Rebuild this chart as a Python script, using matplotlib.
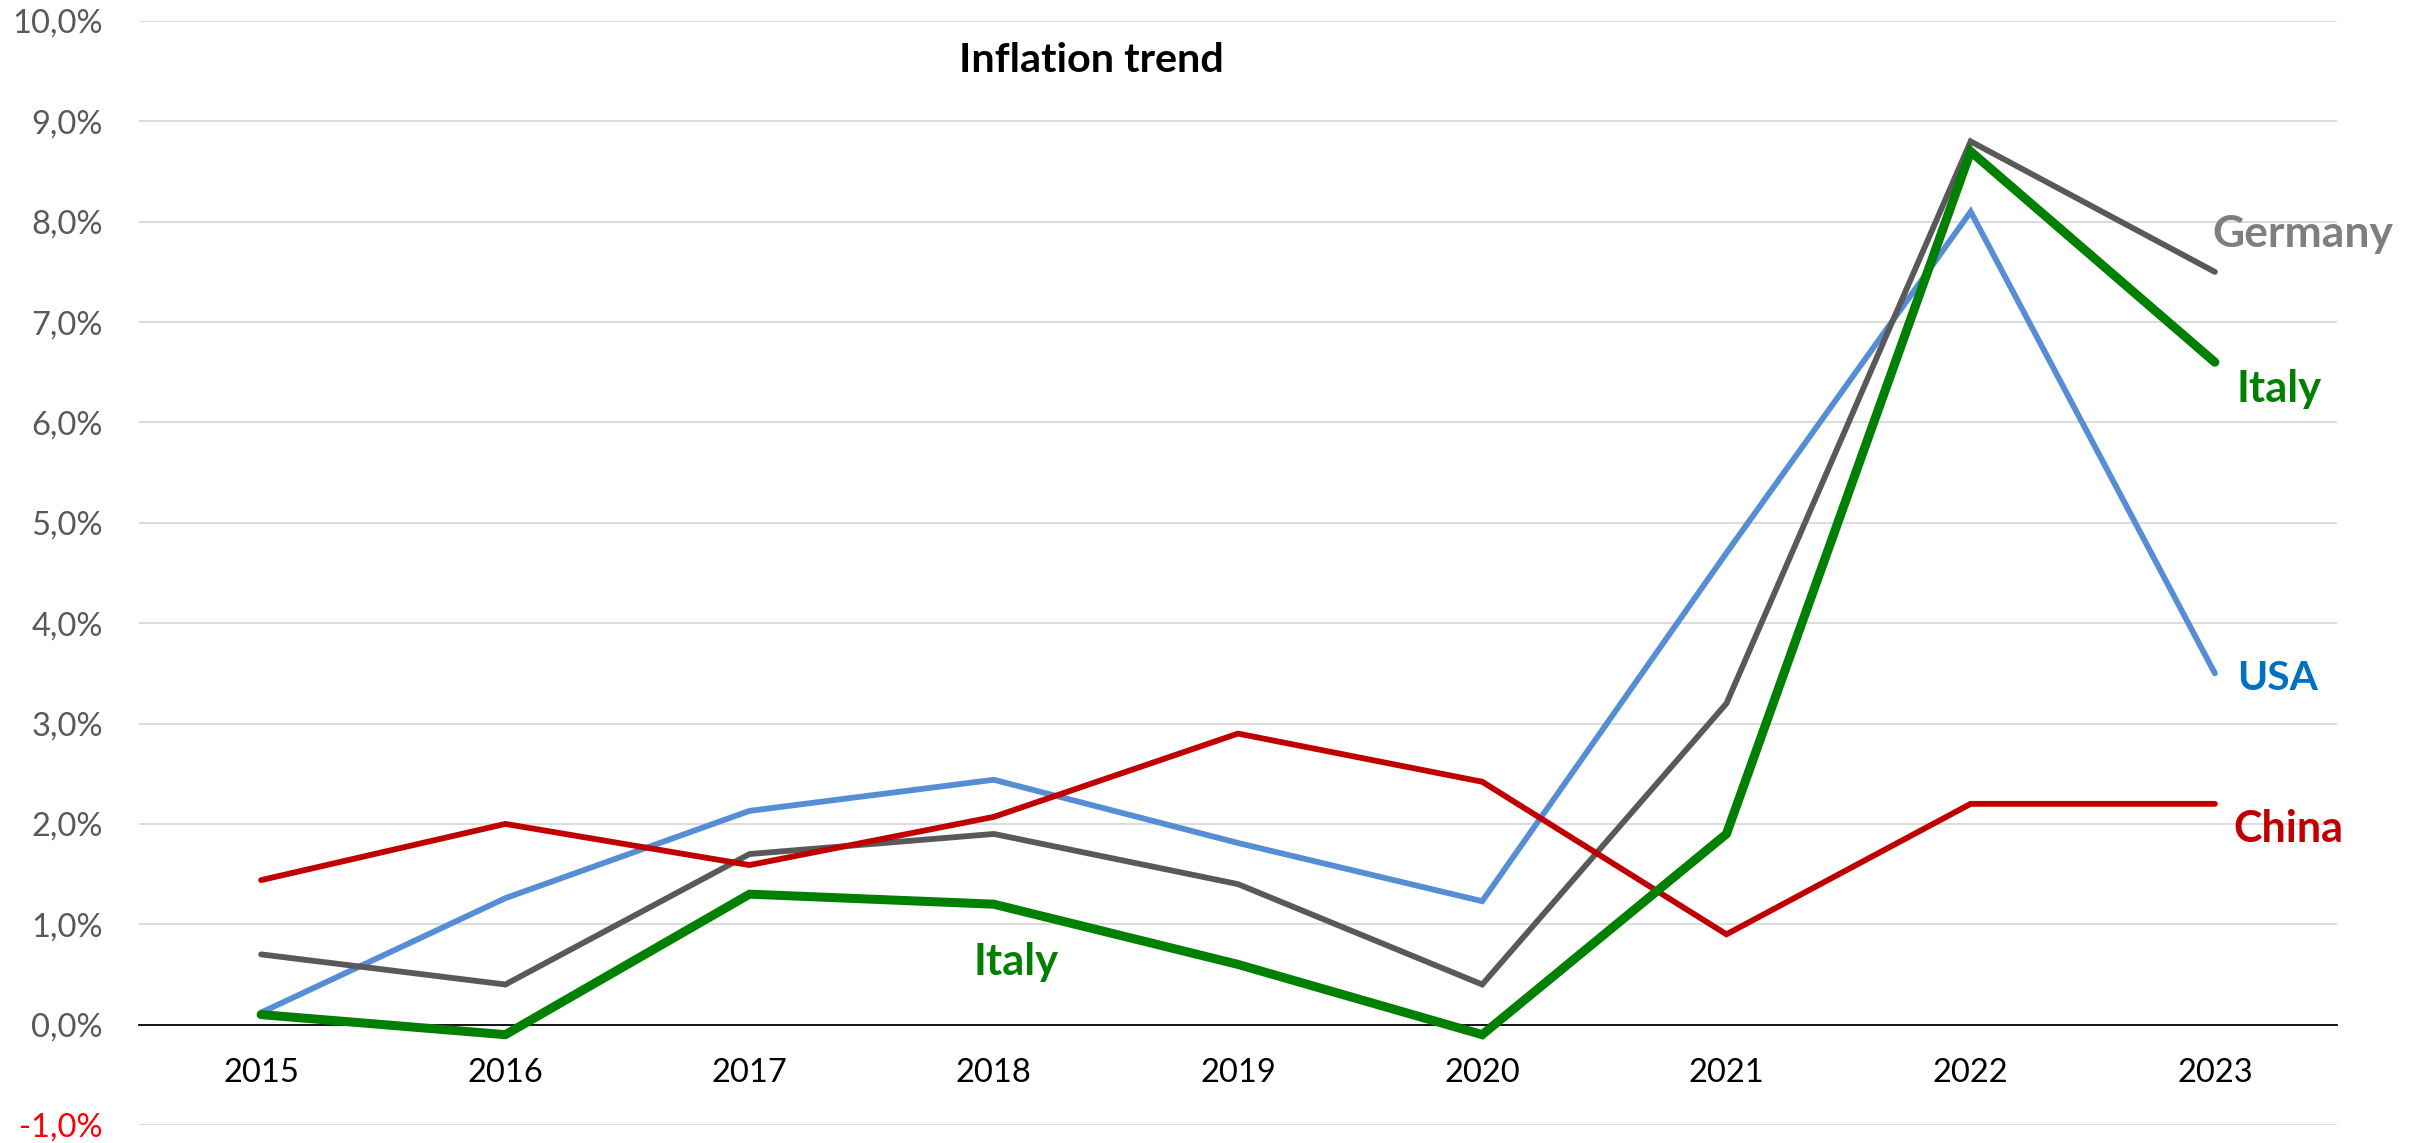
import matplotlib
matplotlib.use("Agg")
import matplotlib.pyplot as plt
from matplotlib.ticker import FixedLocator

# ---------------- data ----------------
years = ["2015", "2016", "2017", "2018", "2019", "2020", "2021", "2022", "2023"]
usa = [0.12, 1.26, 2.13, 2.44, 1.81, 1.23, 4.70, 8.10, 3.50]
germany = [0.70, 0.40, 1.70, 1.90, 1.40, 0.40, 3.20, 8.80, 7.50]
italy = [0.10, -0.10, 1.30, 1.20, 0.60, -0.10, 1.90, 8.70, 6.60]
china = [1.44, 2.00, 1.59, 2.07, 2.90, 2.42, 0.90, 2.20, 2.20]
y_ticks = [-1, 0, 1, 2, 3, 4, 5, 6, 7, 8, 9, 10]
title = "Inflation trend"

FONT = ["Lato", "DejaVu Sans"]

W, H = 2419, 1143
DPI = 100
fig = plt.figure(figsize=(W / DPI, H / DPI), dpi=DPI)
left_px, right_px, top_px, bot_px = 139, 2337, 21, 1125
ax = fig.add_axes([left_px / W, 1 - bot_px / H, (right_px - left_px) / W, (bot_px - top_px) / H])

x = list(range(len(years)))
style = dict(solid_capstyle="round", solid_joinstyle="miter")
ax.plot(x, usa, color="#558ED5", lw=4.2, zorder=3, **style)
ax.plot(x, germany, color="#595959", lw=4.2, zorder=4, **style)
ax.plot(x, china, color="#C00000", lw=4.2, zorder=5, **style)
ax.plot(x, italy, color="#008000", lw=6.5, zorder=6, **style)

ax.set_xlim(-0.5, len(years) - 0.5)
ax.set_ylim(-1, 10)

# grid
ax.yaxis.set_major_locator(FixedLocator(y_ticks))
ax.set_yticklabels([f"{v:.1f}%".replace(".", ",") for v in y_ticks])
for v in y_ticks:
    if v != 0:
        ax.axhline(v, color="#D9D9D9", lw=1.3, zorder=1)
for s in ["left", "right", "top"]:
    ax.spines[s].set_visible(False)
ax.spines["bottom"].set_position(("data", 0))
ax.spines["bottom"].set_color("black")
ax.spines["bottom"].set_linewidth(1.3)
ax.spines["bottom"].set_zorder(2)

ax.set_xticks(x)
ax.set_xticklabels(years)
ax.tick_params(axis="x", length=0, pad=24, labelsize=23.5, labelcolor="black")
ax.tick_params(axis="y", length=0, pad=26, labelsize=23.5, labelcolor="#595959")
for lab in ax.get_xticklabels() + ax.get_yticklabels():
    lab.set_family(FONT)
for lab, v in zip(ax.get_yticklabels(), y_ticks):
    if v < 0:
        lab.set_color("#FF0000")

fig.canvas.draw()
renderer = fig.canvas.get_renderer()


def fitted_text(xd, yd, s, width_px, ha="left", **kw):
    t = ax.text(xd, yd, s, ha=ha, va="baseline", fontsize=20, fontweight="bold",
                family=FONT, zorder=7, **kw)
    w = t.get_window_extent(renderer).width
    t.set_fontsize(20 * width_px / w)
    return t


# labels (position in data coords, target width in px)
fitted_text(7.99, 7.75, "Germany", 180, color="#7F7F7F")
fitted_text(8.09, 6.20, "Italy", 85, color="#008000")
fitted_text(8.09, 3.33, "USA", 81, color="#0070C0")
fitted_text(8.075, 1.815, "China", 110, color="#C00000")
fitted_text(3.09, 0.49, "Italy", 85, ha="center", color="#008000")
fitted_text(3.40, 9.49, title, 265, ha="center", color="black")

fig.savefig("out.png", dpi=DPI, facecolor="white")
